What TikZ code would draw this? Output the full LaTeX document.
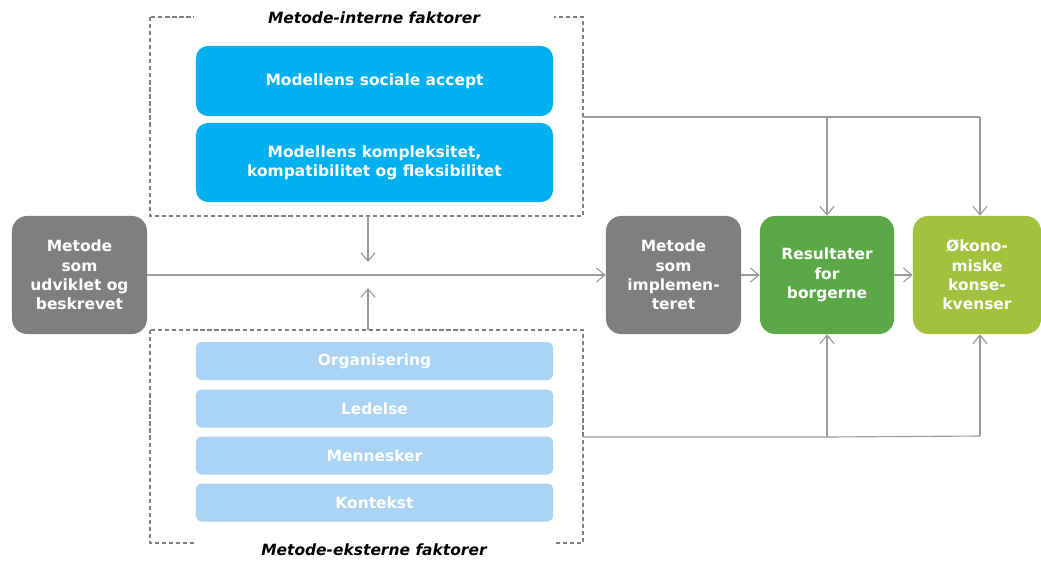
\documentclass[tikz,border=0pt]{standalone}
\usepackage{fontspec}
\setmainfont{DejaVu Sans}
\usetikzlibrary{arrows.meta}
\definecolor{cblue}{HTML}{00B0F0}
\definecolor{clblue}{HTML}{A9D2F3}
\definecolor{cgray}{HTML}{7F7F7F}
\definecolor{cgreen}{HTML}{5BA848}
\definecolor{cyg}{HTML}{A2C13C}
\definecolor{cline}{HTML}{9A9A9A}
\tikzset{
  box/.style={draw=none, rounded corners=0.38cm, text=white, font=\fontsize{11}{13.7}\selectfont\bfseries, align=center, inner sep=0pt, minimum height=2.95cm},
  bluebox/.style={fill=cblue, rounded corners=0.3cm, text=white, font=\fontsize{11}{13.7}\selectfont\bfseries, align=center, inner sep=0pt, minimum width=8.925cm},
  lbox/.style={fill=clblue, rounded corners=0.15cm, text=white, font=\fontsize{11}{13}\selectfont\bfseries, align=center, inner sep=0pt, minimum width=8.925cm, minimum height=0.95cm},
  frame/.style={draw=cgray, line width=0.8pt, dash pattern=on 3pt off 2pt},
  ttl/.style={fill=white, font=\fontsize{11}{13}\selectfont\bfseries\itshape, inner xsep=0pt, inner ysep=2pt, minimum width=9cm},
  conn/.style={draw=cline, line width=0.8pt},
  arr/.style={conn, -{Straight Barb[length=6pt, width=10pt]}}
}
\begin{document}
\begin{tikzpicture}[x=0.025cm, y=-0.025cm]
\useasboundingbox (0,0) rectangle (1041,561);
% frames
\draw[frame] (150,17) rectangle (583,216);
\draw[frame] (150,330) rectangle (583,543);
\node[ttl] (tint) at (374,18) {Metode-interne faktorer};
\node[ttl] (text) at (374,550) {Metode-eksterne faktorer};
\coordinate (ftop) at (368,216);
\coordinate (fbot) at (368,330);
\coordinate (ftopR) at (583,117);
\coordinate (fbotR) at (583,437);
% blue boxes
\node[bluebox, minimum height=1.75cm] (b1) at (374.5,81) {Modellens sociale accept};
\node[bluebox, minimum height=1.975cm] (b2) at (374.5,162.5) {Modellens kompleksitet,\\kompatibilitet og fleksibilitet};
% light boxes
\node[lbox] (l1) at (374.5,361) {Organisering};
\node[lbox] (l2) at (374.5,408.5) {Ledelse};
\node[lbox] (l3) at (374.5,455.5) {Mennesker};
\node[lbox] (l4) at (374.5,502.5) {Kontekst};
% main boxes
\node[box, fill=cgray, minimum width=3.375cm] (m1) at (79.5,275) {Metode\\som\\udviklet og\\beskrevet};
\node[box, fill=cgray, minimum width=3.375cm] (m2) at (673.5,275) {Metode\\som\\implemen-\\teret};
\node[box, fill=cgreen, minimum width=3.35cm] (m3) at (827,275) {Resultater\\for\\borgerne};
\node[box, fill=cyg, minimum width=3.2cm] (m4) at (977,275) {Økono-\\miske\\konse-\\kvenser};
% connectors
\draw[arr] (m1.east) -- (m2.west);
\draw[arr] (m2.east) -- (m3.west);
\draw[arr] (m3.east) -- (m4.west);
\coordinate (dn) at (368,262);
\coordinate (up) at (368,288);
\draw[arr] (ftop) -- (dn);
\draw[arr] (fbot) -- (up);
\coordinate (t1) at (827,117);
\coordinate (t2) at (980,117);
\coordinate (u1) at (827,437);
\coordinate (u2) at (980,436);
\draw[conn] (ftopR) -- (t2);
\draw[arr] (t1) -- (m3.north);
\draw[arr] (t2) -- (t2 |- m4.north);
\draw[conn] (fbotR) -- (u1) -- (u2);
\draw[arr] (u1) -- (m3.south);
\draw[arr] (u2) -- (u2 |- m4.south);
\end{tikzpicture}
\end{document}
